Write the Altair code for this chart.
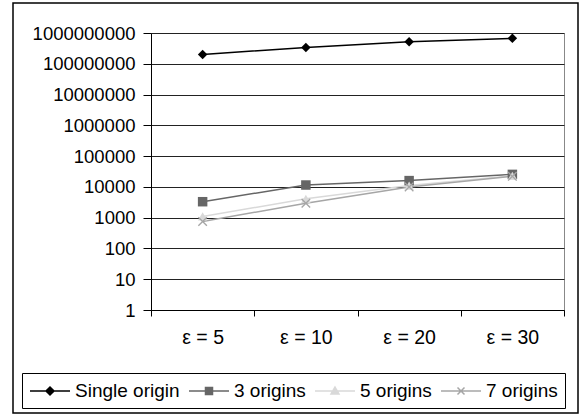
import altair as alt
import pandas as pd

categories = ["ε = 5", "ε = 10", "ε = 20", "ε = 30"]
series_names = ["Single origin", "3 origins", "5 origins", "7 origins"]
single_origin = [2.0e8, 3.4e8, 5.2e8, 6.7e8]
three_origins = [3300, 11500, 16000, 25500]
five_origins = [1100, 4100, 11000, 23000]
seven_origins = [750, 2950, 10000, 22000]
y_ticks = [1, 10, 100, 1000, 10000, 100000, 1000000, 10000000, 100000000, 1000000000]

colors = ["#000000", "#666666", "#d9d9d9", "#a6a6a6"]
x_path = "M-1,-0.8L-0.8,-1L0,-0.2L0.8,-1L1,-0.8L0.2,0L1,0.8L0.8,1L0,0.2L-0.8,1L-1,0.8L-0.2,0Z"
marker_shapes = ["diamond", "square", "triangle-up", x_path]
legend_paths = [
    "M-1,0L3,0M1,-0.4L1.4,0L1,0.4L0.6,0Z",
    "M-1,0L3,0M0.65,-0.35L1.35,-0.35L1.35,0.35L0.65,0.35Z",
    "M-1,0L3,0M1,-0.4L1.4,0.3L0.6,0.3Z",
    "M-1,0L3,0M0.65,-0.35L1.35,0.35M0.65,0.35L1.35,-0.35",
]

rows = []
for name, vals in zip(series_names, [single_origin, three_origins, five_origins, seven_origins]):
    for c, v in zip(categories, vals):
        rows.append({"category": c, "series": name, "value": v})
df = pd.DataFrame(rows)

FONT = "Liberation Sans"

x_enc = alt.X(
    "category:N",
    sort=categories,
    bandPosition=0.5,
    scale=alt.Scale(type="band", paddingInner=0, paddingOuter=0),
    axis=alt.Axis(
        title=None, labelAngle=0, tickBand="extent", ticks=True, tickSize=6,
        labelPadding=12, domainColor="black", tickColor="black",
        labelFontSize=19.5, labelColor="black", labelFont=FONT, grid=False,
    ),
)
y_enc = alt.Y(
    "value:Q",
    scale=alt.Scale(type="log", domain=[1, 1e9], nice=False),
    axis=alt.Axis(
        title=None, values=y_ticks, format="d", tickSize=8, labelPadding=8,
        domainColor="black", tickColor="black", labelFontSize=18.5,
        labelColor="black", labelFont=FONT, grid=True, gridColor="#222222",
        gridWidth=1,
    ),
)

color_scale = alt.Scale(domain=series_names, range=colors)

border = alt.Chart(alt.Data(values=[{"a": 1}])).mark_rect(
    fill=None, stroke="black", strokeWidth=1.5
).encode(
    x=alt.value(-138), x2=alt.value(427), y=alt.value(-30), y2=alt.value(380)
)

lines = alt.Chart(df).mark_line(strokeWidth=1.5).encode(
    x=x_enc, y=y_enc,
    color=alt.Color("series:N", scale=color_scale, legend=None),
)

points = alt.Chart(df).mark_point(filled=True, opacity=1, size=90).encode(
    x=x_enc, y=y_enc,
    color=alt.Color("series:N", scale=color_scale, legend=None),
    shape=alt.Shape("series:N", scale=alt.Scale(domain=series_names, range=marker_shapes), legend=None),
)

leg = alt.Legend(
    orient="none", legendX=-129, legendY=340, direction="horizontal", columns=4,
    title=None, padding=7, strokeColor="black", labelFontSize=19, labelFont=FONT,
    labelColor="black", labelOffset=24, columnPadding=6, symbolSize=400,
    symbolStrokeWidth=1.5, symbolOpacity=1,
)

# legend-only layer: no rows drawn, entries come from the explicit scale domains
legend_layer = alt.Chart(df).transform_filter(alt.datum.value < 0).mark_point(
    filled=True, opacity=1, size=400, strokeWidth=1.5
).encode(
    x=x_enc, y=y_enc,
    shape=alt.Shape("series:N", scale=alt.Scale(domain=series_names, range=legend_paths), legend=leg),
    fill=alt.Fill("series:N", scale=color_scale, legend=leg),
    stroke=alt.Stroke("series:N", scale=color_scale, legend=leg),
)

chart = alt.layer(border, lines, points, legend_layer).resolve_scale(
    shape="independent", fill="independent", stroke="independent"
).resolve_legend(
    shape="independent", fill="independent", stroke="independent"
).properties(
    width=413, height=277,
    autosize=alt.AutoSizeParams(type="none"),
    padding={"left": 151, "top": 33, "right": 24, "bottom": 106},
).configure_view(stroke="#888888", strokeWidth=1)

chart.save("out.html", embed_options={"renderer": "svg", "actions": False})
